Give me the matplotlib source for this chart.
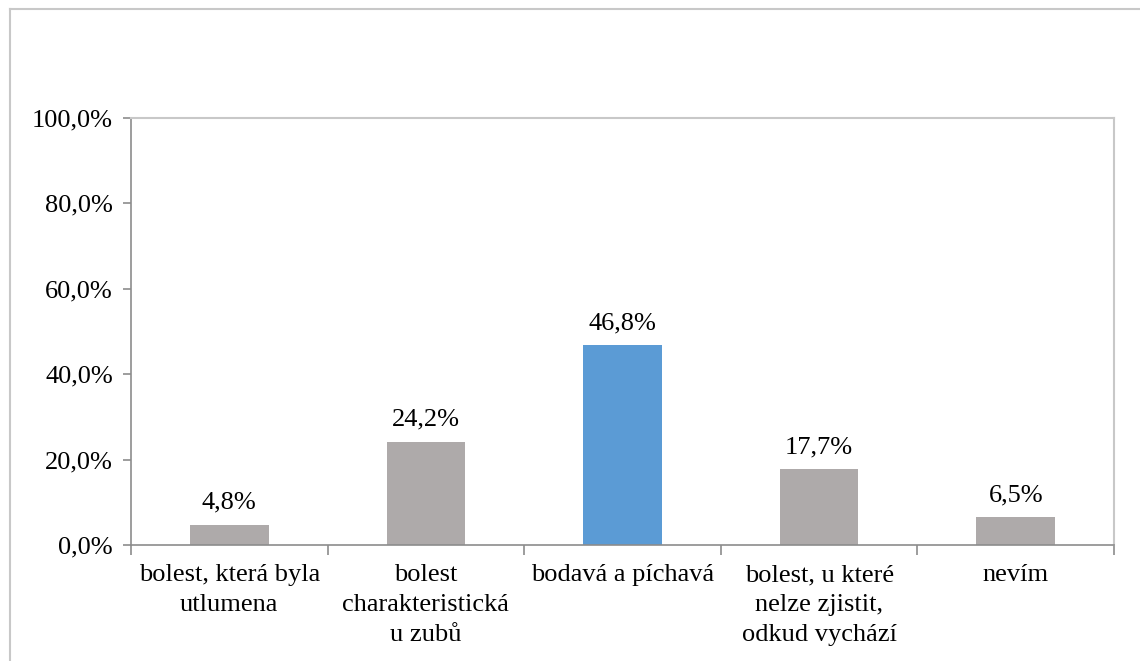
import matplotlib
matplotlib.use("Agg")
import matplotlib.pyplot as plt
from matplotlib.lines import Line2D
from matplotlib.ticker import FixedLocator

# Data
categories = ["bolest, která byla\nutlumena",
              "bolest\ncharakteristická\nu zubů",
              "bodavá a píchavá",
              "bolest, u které\nnelze zjistit,\nodkud vychází",
              "nevím"]
values = [4.8, 24.2, 46.8, 17.7, 6.5]
highlight = 2
y_ticks = [0, 20, 40, 60, 80, 100]

GRAY = "#aeaaaa"
BLUE = "#5b9bd5"
AXIS = "#8c8c8c"
FRAME = "#c8c8c8"
FS = 19

plt.rcParams['font.family'] = ['Liberation Serif', 'DejaVu Serif']

fig = plt.figure(figsize=(11.4, 6.61), dpi=100)
ax = fig.add_axes([131 / 1140, 1 - 545 / 661, (1114 - 131) / 1140, (545 - 118) / 661])

x = list(range(len(values)))
colors = [BLUE if i == highlight else GRAY for i in x]
bars = ax.bar(x, values, width=0.4, color=colors, zorder=2)

for b, v in zip(bars, values):
    ax.annotate(f"{v:.1f}%".replace(".", ","),
                xy=(b.get_x() + b.get_width() / 2, v),
                xytext=(0, 8), textcoords="offset points",
                ha="center", va="bottom", fontsize=FS)

ax.set_xlim(-0.5, len(values) - 0.5)
ax.set_ylim(0, 100)
ax.set_yticks(y_ticks)
ax.set_yticklabels([f"{t:.1f}%".replace(".", ",") for t in y_ticks], fontsize=FS)

ax.set_xticks(x)
ax.set_xticklabels(categories, fontsize=FS, linespacing=1.45)
ax.xaxis.set_minor_locator(FixedLocator([i - 0.5 for i in range(len(values) + 1)]))
ax.tick_params(axis="x", which="major", length=0, pad=14)
ax.tick_params(axis="x", which="minor", length=7, color=AXIS, width=1.2)
ax.tick_params(axis="y", length=6, color=AXIS, width=1.2, pad=7)

ax.spines["left"].set_color(AXIS)
ax.spines["bottom"].set_color(AXIS)
ax.spines["left"].set_linewidth(1.2)
ax.spines["bottom"].set_linewidth(1.2)
ax.spines["top"].set_color(FRAME)
ax.spines["right"].set_color(FRAME)
ax.spines["top"].set_linewidth(1.5)
ax.spines["right"].set_linewidth(1.5)

# outer chart frame (left and top edges visible)
fig.add_artist(Line2D([10 / 1140, 10 / 1140], [0, 1 - 9 / 661],
                      transform=fig.transFigure, color=FRAME, lw=1.5))
fig.add_artist(Line2D([10 / 1140, 1], [1 - 9 / 661, 1 - 9 / 661],
                      transform=fig.transFigure, color=FRAME, lw=1.5))

fig.savefig("out.png", dpi=100)
